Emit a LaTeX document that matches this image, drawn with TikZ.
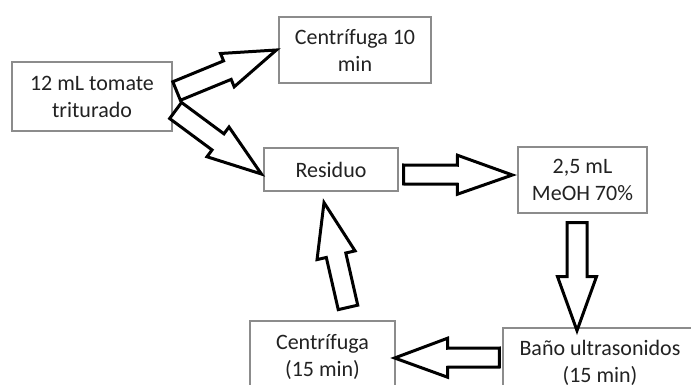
\documentclass[tikz,border=0pt]{standalone}
\usepackage{fontspec}
\setmainfont{Carlito}
\usetikzlibrary{calc}

\definecolor{boxline}{HTML}{8C8C8C}
\definecolor{ink}{HTML}{222222}

\tikzset{
  stepbox/.style={draw=boxline, line width=1.2pt, fill=white, rectangle,
    inner sep=0pt, align=center, text=ink,
    font=\fontsize{22}{27}\selectfont},
  blockarrow/.style={draw=black, fill=white, line width=3pt, line join=miter}
}

% Outlined block arrow: tail, tip, shaft half-width, head half-width, head length
\newcommand{\blockarrow}[5]{%
  \coordinate (ba-hb) at ($(#2)!#5!(#1)$);
  \draw[blockarrow]
    ($(#1)!#3!90:(#2)$) --
    ($(ba-hb)!#3!90:(#2)$) --
    ($(ba-hb)!#4!90:(#2)$) --
    (#2) --
    ($(ba-hb)!#4!-90:(#2)$) --
    ($(ba-hb)!#3!-90:(#2)$) --
    ($(#1)!#3!-90:(#2)$) -- cycle;
}

\begin{document}
\begin{tikzpicture}[x=1pt,y=-1pt]
  \useasboundingbox (0,0) rectangle (691,385);

  % process steps
  \node[stepbox, minimum width=160pt, minimum height=69pt] (tomate) at (92,96.5)
    {12 mL tomate\\triturado};
  \node[stepbox, minimum width=152pt, minimum height=66pt] (cen10) at (355,50)
    {Centrífuga 10\\min};
  \node[stepbox, minimum width=134pt, minimum height=43pt] (res) at (331,169.5)
    {Residuo};
  \node[stepbox, minimum width=129pt, minimum height=66pt] (meoh) at (582.5,180)
    {2,5 mL\\MeOH 70\%};
  \node[stepbox, minimum width=145pt, minimum height=72pt] (cen15) at (322.5,357)
    {Centrífuga\\(15 min)};
  \node[stepbox, minimum width=194pt, minimum height=70pt] (bano) at (600,363)
    {Baño ultrasonidos\\(15 min)};

  % arrow ends, placed from the step boxes
  \coordinate (a1s) at ($(tomate.east)+(4,-5.5)$);
  \coordinate (a1e) at ($(cen10.west)+(-2,0)$);
  \coordinate (a2s) at ($(tomate.east)+(3,14)$);
  \coordinate (a2e) at ($(res.west)+(-2,4.5)$);
  \coordinate (a3s) at ($(res.east)+(5,5)$);
  \coordinate (a3e) at ($(meoh.west)+(-5,-5)$);
  \coordinate (a4s) at ($(meoh.south)+(-5.5,9)$);
  \coordinate (a4e) at ($(meoh.south)+(-5.5,117)$);
  \coordinate (a5s) at ($(bano.west)+(-3,-5.5)$);
  \coordinate (a5e) at ($(cen15.east)+(-1,1)$);
  \coordinate (a6s) at ($(cen15.north)+(25.5,-13)$);
  \coordinate (a6e) at ($(res.south)+(-7,11)$);

  \blockarrow{a1s}{a1e}{10pt}{18pt}{53pt}
  \blockarrow{a2s}{a2e}{10pt}{18.5pt}{54pt}
  \blockarrow{a3s}{a3e}{9.5pt}{19.5pt}{55pt}
  \blockarrow{a4s}{a4e}{10pt}{19.5pt}{54pt}
  \blockarrow{a5s}{a5e}{9.5pt}{19.5pt}{53pt}
  \blockarrow{a6s}{a6e}{10pt}{19.5pt}{54pt}
\end{tikzpicture}
\end{document}
